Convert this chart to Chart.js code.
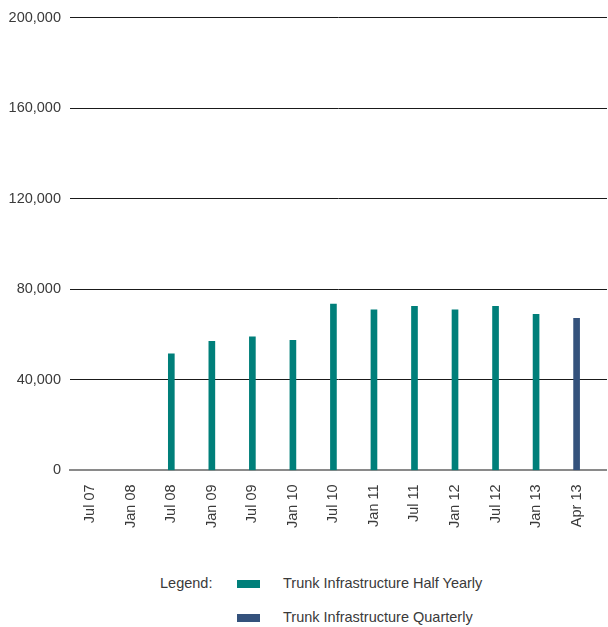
<!DOCTYPE html>
<html>
<head>
<meta charset="utf-8">
<script src="https://cdn.jsdelivr.net/npm/chart.js@4.4.1/dist/chart.umd.min.js"></script>
<style>
  body { margin: 0; background: #fff; font-family: "Liberation Sans", Arial, sans-serif; color: #333; }
  #wrap { position: relative; width: 608px; height: 627px; }
  #chartBox { position: absolute; left: 0; top: 0; width: 608px; height: 542px; }
  .lg { position: absolute; font-size: 14.5px; line-height: 16px; color: #3a3a3a; white-space: nowrap; }
  .sw { position: absolute; width: 23px; height: 8px; }
</style>
</head>
<body>
<div id="wrap">
  <div id="chartBox"><canvas id="trunkChart"></canvas></div>
  <div class="lg" style="left:160px; top:575px;">Legend:</div>
  <div class="sw" style="left:237px; top:580px; background:#007f7a;"></div>
  <div class="lg" style="left:283px; top:575px;">Trunk Infrastructure Half Yearly</div>
  <div class="sw" style="left:237px; top:614px; background:#34527c;"></div>
  <div class="lg" style="left:283px; top:609px;">Trunk Infrastructure Quarterly</div>
</div>
<script>
// 数据
const categories = ['Jul 07', 'Jan 08', 'Jul 08', 'Jan 09', 'Jul 09', 'Jan 10', 'Jul 10',
  'Jan 11', 'Jul 11', 'Jan 12', 'Jul 12', 'Jan 13', 'Apr 13'];
const halfYearly = [null, null, 51500, 57000, 59000, 57500, 73500, 71000, 72500, 71000, 72500, 69000, null];
const quarterly = [null, null, null, null, null, null, null, null, null, null, null, null, 67200];
const yTicks = [0, 40000, 80000, 120000, 160000, 200000];

const toPoints = arr => arr.map((v, i) => ({ x: i, y: v }));

new Chart(document.getElementById('trunkChart'), {
  type: 'bar',
  data: {
    datasets: [{
      label: 'Trunk Infrastructure Half Yearly',
      data: toPoints(halfYearly),
      backgroundColor: '#007f7a',
      barThickness: 6,
      grouped: false
    }, {
      label: 'Trunk Infrastructure Quarterly',
      data: toPoints(quarterly),
      backgroundColor: '#34527c',
      barThickness: 6,
      grouped: false
    }]
  },
  options: {
    responsive: true,
    maintainAspectRatio: false,
    animation: false,
    layout: { padding: { top: 10, right: 0, left: 0, bottom: 0 } },
    plugins: { legend: { display: false }, tooltip: { enabled: false } },
    scales: {
      x: {
        type: 'linear',
        offset: false,
        min: -0.5,
        max: 12.75,
        afterBuildTicks: scale => { scale.ticks = categories.map((c, i) => ({ value: i })); },
        grid: { display: false, drawTicks: false },
        border: { color: '#8a8a8a', width: 2 },
        ticks: {
          autoSkip: false,
          maxRotation: 90,
          minRotation: 90,
          padding: 14,
          color: '#3a3a3a',
          font: { family: 'Liberation Sans', size: 14.5 },
          callback: v => categories[v] ?? ''
        }
      },
      y: {
        min: 0,
        max: 200000,
        afterBuildTicks: scale => { scale.ticks = yTicks.map(v => ({ value: v })); },
        afterFit: scale => { scale.width = 70; },
        grid: {
          drawTicks: false,
          color: ctx => ctx.tick && ctx.tick.value === 0 ? '#8a8a8a' : '#1a1a1a',
          lineWidth: 1
        },
        border: { display: false },
        ticks: {
          padding: 9,
          color: '#3a3a3a',
          font: { family: 'Liberation Sans', size: 14.5 },
          callback: v => v.toLocaleString('en-US')
        }
      }
    }
  }
});
</script>
</body>
</html>
